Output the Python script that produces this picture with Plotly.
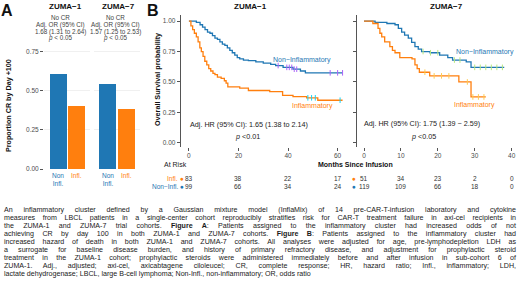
import json
import plotly.graph_objects as go

W, H = 520, 282
def X(p): return p / W
def Y(p): return 1 - p / H

BLUE = "#1f77b4"
ORANGE = "#ff7f0e"
FONT = "Liberation Sans, Arial, Helvetica, sans-serif"
GREY = "#4d4d4d"

# ---------------- Panel A data ----------------
bar_positions = [1, 2]
bar_labels = ["Non<br>Infl.", "Infl."]
cr_zuma1 = [0.61, 0.40]
cr_zuma7 = [0.545, 0.385]
bar_ticks = [0, 0.25, 0.5, 0.75]
bar_ticktext = ["0.00", "0.25", "0.50", "0.75"]
or_zuma1 = ["No CR", "Adj. OR (95% CI)", "1.68 (1.31 to 2.64)", "<i>p</i> < 0.05"]
or_zuma7 = ["No CR", "Adj. OR (95% CI)", "1.57 (1.25 to 2.53)", "<i>p</i> < 0.05"]

# ---------------- Panel B data (Kaplan-Meier steps) ----------------
km1_non_t = [0, 3, 4.5, 5.5, 6.5, 7.5, 8.5, 9.5, 10.5, 11.5, 12.5, 13.5, 14.5, 15.5, 16.5, 17.5,
             18.5, 19.5, 20.5, 22, 24, 27, 30, 33, 35, 38, 42, 45, 47, 62]
km1_non_s = [1.0, 0.99, 0.97, 0.95, 0.93, 0.91, 0.90, 0.88, 0.86, 0.85, 0.83, 0.81, 0.80, 0.78, 0.76, 0.74,
             0.72, 0.70, 0.69, 0.68, 0.675, 0.665, 0.655, 0.645, 0.635, 0.62, 0.605, 0.59, 0.575, 0.575]
km1_inf_t = [0, 0.8, 1.5, 2.2, 3, 3.7, 4.4, 5, 5.7, 6.4, 7.2, 8, 8.8, 9.7, 10.5, 11.5, 13, 14.3,
             15, 15.7, 20.5, 24, 32.6, 37.8, 42, 47.5, 52, 62]
km1_inf_s = [1.0, 0.96, 0.93, 0.90, 0.87, 0.83, 0.78, 0.75, 0.71, 0.67, 0.64, 0.61, 0.59, 0.57, 0.56, 0.54, 0.53, 0.51,
             0.49, 0.46, 0.45, 0.43, 0.42, 0.39, 0.38, 0.37, 0.35, 0.35]
km2_non_t = [0, 3, 6.2, 8.4, 9.3, 10.2, 11, 12, 12.9, 13.8, 14.7, 15.6, 17.9, 20.5, 22.7, 24, 27.7, 29, 38]
km2_non_s = [1.0, 0.99, 0.98, 0.97, 0.94, 0.91, 0.885, 0.86, 0.825, 0.79, 0.77, 0.75, 0.74, 0.72, 0.70, 0.68,
             0.665, 0.62, 0.62]
km2_inf_t = [0, 2.4, 3.8, 4.3, 4.8, 5.6, 7, 7.7, 8.4, 9.7, 13, 13.8, 14.4, 15, 17.8, 25.7, 29, 33]
km2_inf_s = [1.0, 0.98, 0.94, 0.90, 0.87, 0.83, 0.79, 0.76, 0.74, 0.70, 0.69, 0.64, 0.61, 0.58, 0.55, 0.50,
             0.377, 0.377]
cens1_non = [36, 39.5, 40.5, 41.5, 42.5, 43.5, 57, 60, 62]
cens1_inf = [48, 49.5, 51, 61]
cens2_non = [16, 18, 20, 24.5, 26, 30, 31.5, 33, 34.5, 36, 37.5]
cens2_inf = [16.5, 19, 21, 23, 28, 29.5, 31, 32.5]

km_y_ticks = [0, 0.25, 0.5, 0.75, 1.0]
km_y_ticktext = ["0.00", "0.25", "0.50", "0.75", "1.00"]
km1_x_ticks = [0, 20, 40, 60]
km2_x_ticks = [0, 10, 20, 30, 40]

risk1_times = [0, 20, 40, 60]
risk1_inf = [83, 38, 22, 17]
risk1_non = [99, 66, 34, 24]
risk2_times = [0, 10, 20, 30, 40]
risk2_inf = [51, 34, 23, 2, 0]
risk2_non = [119, 109, 66, 18, 0]

caption_lines = [
    "An inflammatory cluster defined by a Gaussian mixture model (InflaMix) of 14 pre-CAR-T-infusion laboratory and cytokine",
    "measures from LBCL patients in a single-center cohort reproducibly stratifies risk for CAR-T treatment failure in axi-cel recipients in",
    "the ZUMA-1 and ZUMA-7 trial cohorts. <b>Figure A</b>: Patients assigned to the inflammatory cluster had increased odds of not",
    "achieving CR by day 100 in both ZUMA-1 and ZUMA-7 cohorts. <b>Figure B</b>: Patients assigned to the inflammatory cluster had",
    "increased hazard of death in both ZUMA-1 and ZUMA-7 cohorts. All analyses were adjusted for age, pre-lymphodepletion LDH as",
    "a surrogate for baseline disease burden, and history of primary refractory disease, and adjustment for prophylactic steroid",
    "treatment in the ZUMA-1 cohort; prophylactic steroids were administered immediately before and after infusion in sub-cohort 6 of",
    "ZUMA-1. Adj., adjusted; axi-cel, axicabtagene ciloleucel; CR, complete response; HR, hazard ratio; Infl., inflammatory; LDH,",
    "lactate dehydrogenase; LBCL, large B-cell lymphoma; Non-Infl., non-inflammatory; OR, odds ratio",
]

# ---------------- figure ----------------
fig = go.Figure()

for xa, vals in (("x", cr_zuma1), ("x2", cr_zuma7)):
    ya = "y" if xa == "x" else "y2"
    fig.add_trace(go.Bar(x=bar_positions, y=vals, width=0.9, marker=dict(color=[BLUE, ORANGE], line=dict(width=0)),
                         xaxis=xa, yaxis=ya, showlegend=False, hoverinfo="skip"))

def surv_at(ts, ss, t):
    val = ss[0]
    for ti, si in zip(ts, ss):
        if ti <= t:
            val = si
    return val

for (ts, ss, cens, col, xa, ya) in (
        (km1_non_t, km1_non_s, cens1_non, BLUE, "x3", "y3"),
        (km1_inf_t, km1_inf_s, cens1_inf, ORANGE, "x3", "y3"),
        (km2_non_t, km2_non_s, cens2_non, BLUE, "x4", "y4"),
        (km2_inf_t, km2_inf_s, cens2_inf, ORANGE, "x4", "y4")):
    fig.add_trace(go.Scatter(x=ts, y=ss, mode="lines", line=dict(color=col, width=1.3, shape="hv"),
                             xaxis=xa, yaxis=ya, showlegend=False, hoverinfo="skip"))
    fig.add_trace(go.Scatter(x=cens, y=[surv_at(ts, ss, c) for c in cens], mode="markers",
                             marker=dict(symbol="line-ns-open", size=4, line=dict(width=1, color=col)),
                             xaxis=xa, yaxis=ya, showlegend=False, hoverinfo="skip"))

tickfont = dict(family=FONT, size=6.5, color=GREY)
common_y = dict(ticks="outside", ticklen=3, tickcolor="#555", tickwidth=1, tickfont=tickfont,
                zeroline=False, automargin=False, fixedrange=True)

KM_BOTTOM = 146.5
KM_Y_RANGE = [-0.03, 1.05]

fig.update_layout(
    width=W, height=H, margin=dict(l=0, r=0, t=0, b=0),
    paper_bgcolor="white", plot_bgcolor="white",
    bargap=0, font=dict(family=FONT),
    xaxis=dict(domain=[X(44), X(90)], range=[0.25, 2.7], showticklabels=False, showgrid=False,
               zeroline=False, anchor="y", automargin=False),
    yaxis=dict(domain=[Y(169), Y(47)], range=[0, 0.78], tickvals=bar_ticks, ticktext=bar_ticktext,
               showgrid=True, gridcolor="#ececec", gridwidth=0.8, showline=False, anchor="x", **common_y),
    xaxis2=dict(domain=[X(93.5), X(139.5)], range=[0.25, 2.7], showticklabels=False, showgrid=False,
                zeroline=False, anchor="y2", automargin=False),
    yaxis2=dict(domain=[Y(169), Y(47)], range=[0, 0.78], tickvals=bar_ticks, showticklabels=False,
                ticks="", showgrid=True, gridcolor="#ececec", gridwidth=0.8, zeroline=False,
                anchor="x2", automargin=False),
    xaxis3=dict(domain=[X(181), X(350)], range=[-3.2, 65], tickvals=km1_x_ticks, ticks="outside", ticklen=3,
                tickcolor="#555", tickfont=tickfont, showgrid=False, zeroline=False, showline=False,
                anchor="y3", automargin=False),
    yaxis3=dict(domain=[Y(KM_BOTTOM), Y(15)], range=KM_Y_RANGE, tickvals=km_y_ticks, ticktext=km_y_ticktext,
                showgrid=False, showline=True, linecolor="#555", linewidth=1.3, anchor="x3", **common_y),
    xaxis4=dict(domain=[X(357), X(519)], range=[-1.9, 42], tickvals=km2_x_ticks, ticks="outside", ticklen=3,
                tickcolor="#555", tickfont=tickfont, showgrid=False, zeroline=False, showline=False,
                anchor="y4", automargin=False),
    yaxis4=dict(domain=[Y(KM_BOTTOM), Y(15)], range=KM_Y_RANGE, tickvals=km_y_ticks, showticklabels=False,
                showgrid=False, showline=True, linecolor="#555", linewidth=1.3, ticks="outside", ticklen=3,
                tickcolor="#555", zeroline=False, anchor="x4", automargin=False),
)

ann = []
def A(text, x, y, size=7, color="#222", xanchor="center", yanchor="middle", xref="paper", yref="paper",
      angle=0, bold=False, align="center"):
    if bold:
        text = "<b>" + text + "</b>"
    ann.append(dict(text=text, x=x, y=y, xref=xref, yref=yref, xanchor=xanchor, yanchor=yanchor,
                    showarrow=False, textangle=angle, borderpad=0, borderwidth=0, align=align,
                    font=dict(family=FONT, size=size, color=color)))

# panel letters and titles
A("A", X(7), Y(10), size=16, color="#111", bold=True)
A("B", X(153), Y(10), size=16, color="#111", bold=True)
A("ZUMA−1", X(65), Y(7), size=8, color="#111", bold=True)
A("ZUMA−7", X(118), Y(7), size=8, color="#111", bold=True)
A("ZUMA−1", X(250), Y(7), size=8, color="#111", bold=True)
A("ZUMA−7", X(446), Y(7), size=8, color="#111", bold=True)

# Panel A annotations
for i, (t1, t7) in enumerate(zip(or_zuma1, or_zuma7)):
    yy = Y(18 + 6.8 * i)
    A(t1, X(60), yy, size=6.3, color="#444")
    A(t7, X(115), yy, size=6.3, color="#444")
A("Proportion CR by Day +100", X(8), Y(106), size=7.2, color="#111", angle=-90, bold=True)
for xa in ("x", "x2"):
    A(bar_labels[0], bar_positions[0], Y(172), size=6.5, color=BLUE, xref=xa, yanchor="top")
    A(bar_labels[1], bar_positions[1], Y(172), size=6.5, color=ORANGE, xref=xa, yanchor="top")

# Panel B annotations
A("Overall Survival probability", X(158), Y(80), size=7.2, color="#111", angle=-90, bold=True)
A("Non−Inflammatory", 45.5, 0.68, size=7, color=BLUE, xref="x3", yref="y3")
A("Inflammatory", 50, 0.30, size=7, color=ORANGE, xref="x3", yref="y3")
A("Non−Inflammatory", 32.7, 0.745, size=7, color=BLUE, xref="x4", yref="y4")
A("Inflammatory", 30, 0.31, size=7, color=ORANGE, xref="x4", yref="y4")
A("Adj. HR (95% CI): 1.65 (1.38 to 2.14)", X(249), Y(125), size=7.2, color="#222")
A("<i>p</i> <0.01", X(247), Y(136), size=7.2, color="#222")
A("Adj. HR (95% CI): 1.75 (1.39 − 2.59)", X(422), Y(124), size=7.2, color="#222")
A("<i>p</i> <0.05", X(423), Y(136), size=7.2, color="#222")

# risk table
A("At Risk", X(175), Y(164), size=7, color="#222")
A("Months Since Infusion", X(355), Y(164.5), size=7, color="#111", bold=True)
A("Infl.", X(178), Y(178), size=6.5, color=ORANGE, xanchor="right")
A("Non−Infl.", X(178), Y(186.5), size=6.5, color=BLUE, xanchor="right")
for dx in (181.5, 354):
    A("●", X(dx), Y(178), size=6.5, color=ORANGE)
    A("●", X(dx), Y(186.5), size=6.5, color=BLUE)
for times, inf, non, xa in ((risk1_times, risk1_inf, risk1_non, "x3"), (risk2_times, risk2_inf, risk2_non, "x4")):
    for t, a, b in zip(times, inf, non):
        A(str(a), t, Y(178), size=6.5, color="#333", xref=xa)
        A(str(b), t, Y(186.5), size=6.5, color="#333", xref=xa)

# ---------------- caption: one text per line, justified in the browser ----------------
CAP_LEFT, CAP_RIGHT = 4, 516
CAP_FS = 7.1
cap_idx = []
for li, line in enumerate(caption_lines):
    cap_idx.append(len(ann))
    A(line, X(CAP_LEFT), Y(209.5 + 8.0 * li), size=CAP_FS, color="#1a1a1a", xanchor="left", align="left")

fig.update_layout(annotations=ann)

post = """
document.body.style.margin = '0px';
var gd = document.getElementById('{plot_id}');
var idx = %s;
var target = %d;
for (var k = 0; k < idx.length - 1; k++) {
  var t = gd.querySelector('g.annotation[data-index="' + idx[k] + '"] text.annotation-text');
  if (!t) continue;
  var len = t.getComputedTextLength();
  var n = (t.textContent.match(/ /g) || []).length;
  if (n > 0 && len < target) { t.style.wordSpacing = ((target - len) / n) + 'px'; }
}
""" % (json.dumps(cap_idx), CAP_RIGHT - CAP_LEFT)

fig.write_html("out.html", post_script=post, config={"displayModeBar": False, "staticPlot": True})
